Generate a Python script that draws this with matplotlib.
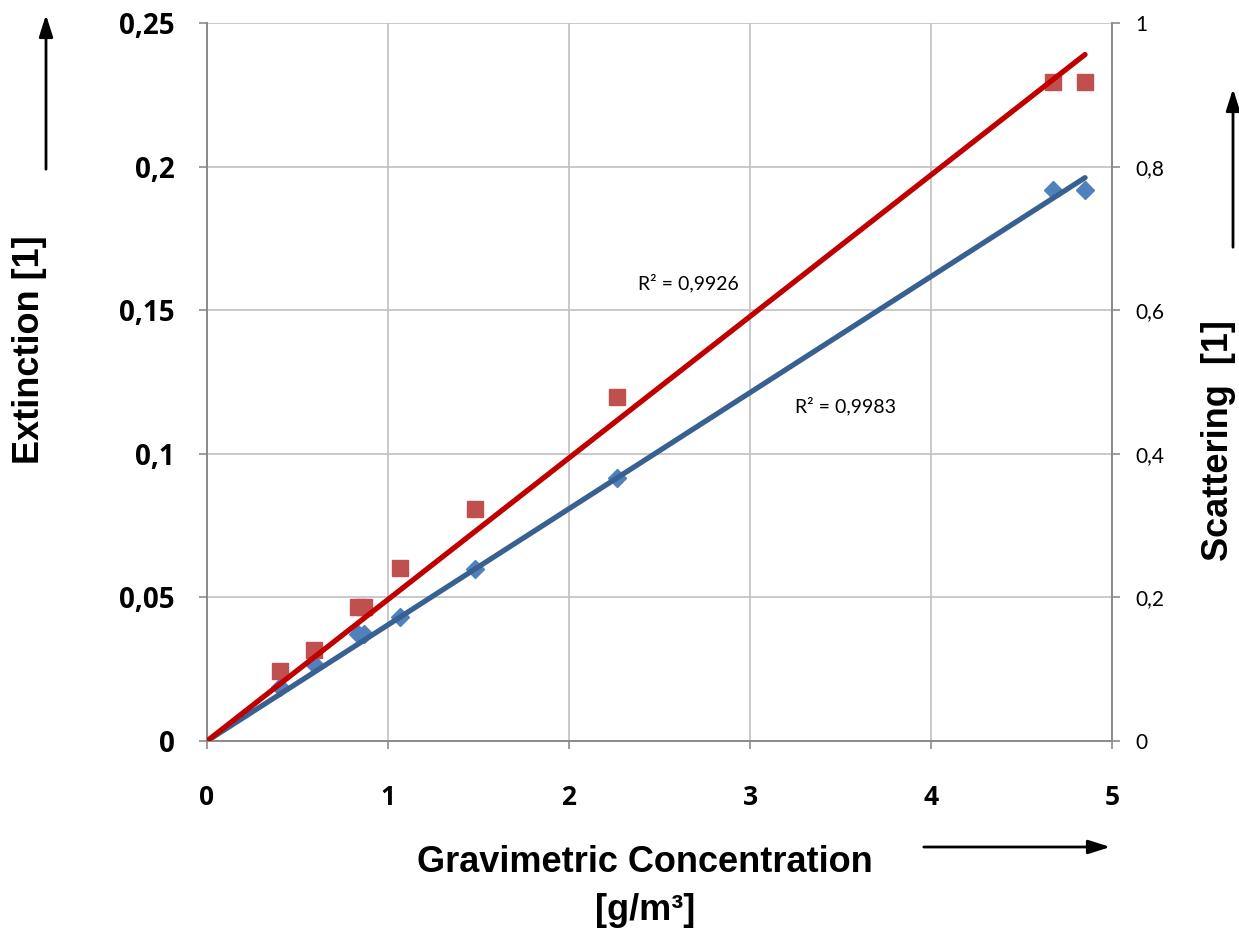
import matplotlib
matplotlib.use("Agg")
import matplotlib.pyplot as plt
import numpy as np

# Data
conc = [0.405, 0.59, 0.835, 0.865, 1.066, 1.48, 2.265, 4.674, 4.851]
extinction = [0.0188, 0.0268, 0.0373, 0.0373, 0.0432, 0.0599, 0.0916, 0.1918, 0.1918]
scattering = [0.0976, 0.127, 0.187, 0.187, 0.241, 0.323, 0.479, 0.918, 0.918]
r2_ext = "R² = 0,9983"
r2_sca = "R² = 0,9926"
x_ticks = [0, 1, 2, 3, 4, 5]
left_ticks = [0, 0.05, 0.1, 0.15, 0.2, 0.25]
left_labels = ["0", "0,05", "0,1", "0,15", "0,2", "0,25"]
right_ticks = [0, 0.2, 0.4, 0.6, 0.8, 1.0]
right_labels = ["0", "0,2", "0,4", "0,6", "0,8", "1"]

x = np.array(conc)
ye = np.array(extinction)
ys = np.array(scattering)
k_e = (x * ye).sum() / (x * x).sum()
k_s = (x * ys).sum() / (x * x).sum()
xl = np.array([0, x.max()])

fig = plt.figure(figsize=(12.39, 9.32), dpi=100)
ax = fig.add_axes([207/1239, 1-741/932, (1112-207)/1239, (741-23)/932])
ax2 = ax.twinx()

grid_c = "#c0c0c0"
ax.set_xlim(0, 5)
ax.set_ylim(0, 0.25)
ax2.set_ylim(0, 1)
ax.set_xticks(x_ticks)
ax.set_xticklabels([str(t) for t in x_ticks], fontfamily="Open Sans", fontweight="bold", fontsize=19)
ax.set_yticks(left_ticks)
ax.set_yticklabels(left_labels, fontfamily="Open Sans", fontweight="bold", fontsize=20)
ax2.set_yticks(right_ticks)
ax2.set_yticklabels(right_labels, fontfamily="Lato", fontsize=15)
ax.grid(True, color=grid_c, linewidth=1.2)
ax.set_axisbelow(True)
for a in (ax, ax2):
    for s in a.spines.values():
        s.set_color("#8c8c8c")
        s.set_linewidth(1.3)
    a.spines["top"].set_visible(False)
ax.tick_params(axis="both", length=6, color="#8c8c8c", width=1.2)
ax.tick_params(axis="y", pad=17)
ax.tick_params(axis="x", pad=25)
ax2.tick_params(axis="y", length=6, color="#8c8c8c", width=1.2, pad=11)

ax.plot(x, ye, linestyle="none", marker="D", markersize=9, color="#4f81bd", zorder=3)
ax2.plot(x, ys, linestyle="none", marker="s", markersize=11, color="#c0504d", zorder=3)
ax.plot(xl, k_e * xl, color="#386192", linewidth=3.8, solid_capstyle="round", zorder=4)
ax2.plot(xl, k_s * xl, color="#c00000", linewidth=3.8, solid_capstyle="round", zorder=4)

ax.text(2.38, 0.1595, r2_sca, fontfamily="Lato", fontsize=14, va="center", ha="left")
ax.text(3.25, 0.1165, r2_ext, fontfamily="Lato", fontsize=14, va="center", ha="left")

lab = dict(fontfamily="Liberation Sans", fontweight="bold", fontsize=26)
fig.text(30/1239, 1-350/932, "Extinction [1]", rotation=90, ha="center", va="center", **lab)
fig.text(1218/1239, 1-441/932, "Scattering  [1]", rotation=90, ha="center", va="center", **lab)
fig.text(645/1239, 1-862/932, "Gravimetric Concentration", ha="center", va="center", **lab)
fig.text(645/1239, 1-910/932, "[g/m³]", ha="center", va="center", **lab)

arr = dict(arrowstyle="-|>,head_length=1.1,head_width=0.35", color="black", lw=2)
fig.add_artist(matplotlib.patches.FancyArrowPatch((46/1239, 1-172/932), (46/1239, 1-12/932),
               transform=fig.transFigure, mutation_scale=12, **arr))
fig.add_artist(matplotlib.patches.FancyArrowPatch((1233/1239, 1-250/932), (1233/1239, 1-86/932),
               transform=fig.transFigure, mutation_scale=12, **arr))
fig.add_artist(matplotlib.patches.FancyArrowPatch((921/1239, 1-847/932), (1113/1239, 1-847/932),
               transform=fig.transFigure, mutation_scale=12, **arr))

fig.savefig("out.png", dpi=100)
